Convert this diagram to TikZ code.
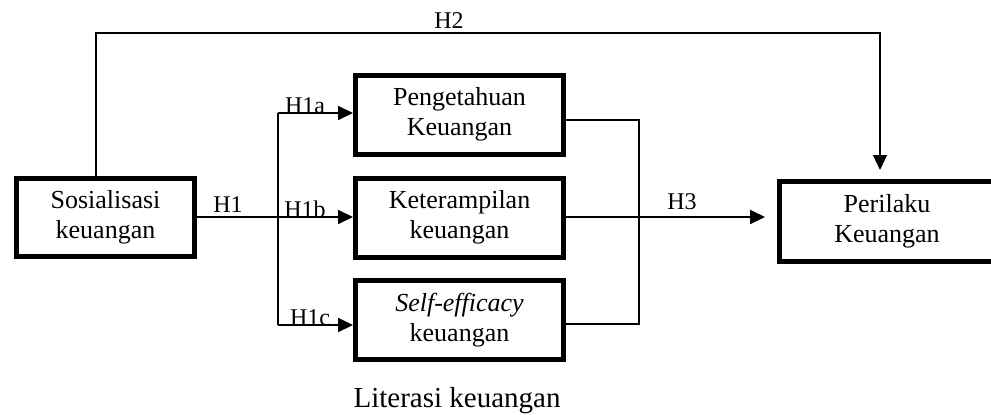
\documentclass[tikz,border=0pt]{standalone}
\usepackage{fontspec}
\setmainfont{Liberation Serif}
\usetikzlibrary{arrows.meta}

\begin{document}
\begin{tikzpicture}[x=0.5pt,y=-0.5pt]
\tikzstyle{box}=[draw,line width=2.5pt,align=center,inner sep=0pt,font=\fontsize{13}{15}\selectfont]
\tikzstyle{midbox}=[box,minimum width=104pt,minimum height=39.5pt]
\tikzstyle{hyp}=[anchor=base,inner sep=0pt,font=\fontsize{12}{14}\selectfont]
\tikzstyle{link}=[line width=1pt,-{Triangle[length=7.5pt,width=7pt]}]
\tikzstyle{thin}=[line width=0.65pt]
\useasboundingbox (0,0) rectangle (991,414);
\node[box,minimum width=89pt,minimum height=39pt] (sos) at (105.5,217.5) {Sosialisasi\\keuangan};
\node[midbox] (pen) at (459.5,114.5) {Pengetahuan\\Keuangan};
\node[midbox] (ket) at (459.5,217.5) {Keterampilan\\keuangan};
\node[midbox] (self) at (459.5,320) {\textit{Self-efficacy}\\keuangan};
\node[box,minimum width=107.5pt,minimum height=40pt] (per) at (887,221.5) {Perilaku\\Keuangan};
\node[anchor=base,font=\fontsize{14.5}{16}\selectfont] (lit) at (457,407) {Literasi keuangan};
% H1 branches
\coordinate (split) at (278,217);
\coordinate (s1) at (278,113);
\coordinate (s3) at (278,325);
\draw[link] (sos.east |- split) -- (ket.west |- split);
\draw[line width=1pt] (s1) -- (s3);
\draw[link] (s1) -- (s1 -| pen.west);
\draw[link] (s3) -- (s3 -| self.west);
% H3
\coordinate (m1) at (639,120);
\coordinate (m3) at (639,324);
\coordinate (h3tip) at (765,217);
\draw[thin] (m1 -| pen.east) -- (m1) -- (m3) -- (m3 -| self.east);
\draw[link] (ket.east |- h3tip) -- (h3tip);
% H2
\coordinate (h2top) at (96,33);
\coordinate (h2tip) at (880,170);
\draw[thin,-{Triangle[length=7.5pt,width=7pt]}] (sos.north -| h2top) -- (h2top) -| (h2tip);
\node[hyp] (h1) at (228,212) {H1};
\node[hyp] (h1a) at (305,113) {H1a};
\node[hyp] (h1b) at (305,217) {H1b};
\node[hyp] (h1c) at (310,325) {H1c};
\node[hyp] (h2) at (449,28) {H2};
\node[hyp] (h3) at (682,209) {H3};
\end{tikzpicture}
\end{document}
